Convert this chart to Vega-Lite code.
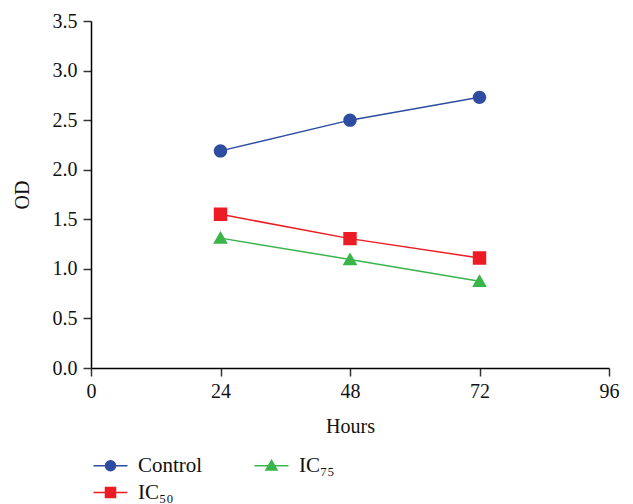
{
  "$schema": "https://vega.github.io/schema/vega-lite/v6.json",
  "width": 518,
  "height": 347,
  "autosize": "none",
  "padding": {"left": 91, "top": 21, "right": 24, "bottom": 136},
  "background": "white",
  "config": {
    "view": {"stroke": null},
    "font": "Liberation Serif",
    "axis": {
      "grid": false,
      "domainColor": "#000000",
      "domainWidth": 1.5,
      "tickColor": "#333333",
      "tickWidth": 1.5,
      "tickSize": 8,
      "labelFont": "Liberation Serif",
      "labelFontSize": 20,
      "labelColor": "#111111",
      "titleFont": "Liberation Serif",
      "titleFontSize": 20,
      "titleFontWeight": "normal",
      "titleColor": "#111111"
    }
  },
  "data": {
    "values": [
      {"hours": 24, "od": 2.19, "group": "Control"},
      {"hours": 48, "od": 2.50, "group": "Control"},
      {"hours": 72, "od": 2.73, "group": "Control"},
      {"hours": 24, "od": 1.55, "group": "IC₅₀"},
      {"hours": 48, "od": 1.305, "group": "IC₅₀"},
      {"hours": 72, "od": 1.11, "group": "IC₅₀"},
      {"hours": 24, "od": 1.31, "group": "IC₇₅"},
      {"hours": 48, "od": 1.095, "group": "IC₇₅"},
      {"hours": 72, "od": 0.875, "group": "IC₇₅"}
    ]
  },
  "encoding": {
    "x": {
      "field": "hours",
      "type": "quantitative",
      "title": "Hours",
      "scale": {"domain": [0, 96], "nice": false, "zero": false},
      "axis": {"values": [0, 24, 48, 72, 96], "labelPadding": 5, "titlePadding": 15, "labelFlush": false}
    },
    "y": {
      "field": "od",
      "type": "quantitative",
      "title": "OD",
      "scale": {"domain": [0, 3.5], "nice": false},
      "axis": {"values": [0, 0.5, 1, 1.5, 2, 2.5, 3, 3.5], "format": ".1f", "labelPadding": 6, "titlePadding": 20, "labelFlush": false}
    },
    "color": {
      "field": "group",
      "type": "nominal",
      "scale": {"domain": ["Control", "IC₅₀", "IC₇₅"], "range": ["#2E4DA0", "#ED1C24", "#39B54A"]},
      "legend": {
        "title": null,
        "orient": "none",
        "legendX": 9,
        "legendY": 434,
        "columns": 2,
        "columnPadding": 48,
        "rowPadding": 5,
        "padding": 0,
        "symbolSize": 100,
        "labelOffset": 17,
        "labelFont": "Liberation Serif",
        "labelFontSize": 21,
        "labelColor": "#111111",
        "symbolStrokeWidth": 1.5,
        "encode": {
          "symbols": {
            "update": {
              "stroke": {"scale": "color", "field": "value"},
              "strokeWidth": {"value": 1.5},
              "opacity": {"value": 1}
            }
          }
        }
      }
    }
  },
  "layer": [
    {
      "mark": {"type": "line", "strokeWidth": 1.5}
    },
    {
      "mark": {"type": "point", "filled": true, "opacity": 1, "size": 180, "strokeWidth": 0},
      "encoding": {
        "shape": {
          "field": "group",
          "type": "nominal",
          "scale": {
            "domain": ["Control", "IC₅₀", "IC₇₅"],
            "range": [
              "M-1,0A1,1,0,1,1,1,0A1,1,0,1,1,-1,0ZM-3.4,0H3.4",
              "M-1,-1H1V1H-1ZM-3.4,0H3.4",
              "M0,-1.05L1.1,0.85H-1.1ZM-3.4,0H3.4"
            ]
          },
          "legend": {
            "title": null,
            "orient": "none",
            "legendX": 9,
            "legendY": 434,
            "columns": 2,
            "columnPadding": 48,
            "rowPadding": 5,
            "padding": 0,
            "symbolSize": 100,
            "labelOffset": 17,
            "labelFont": "Liberation Serif",
            "labelFontSize": 21,
            "labelColor": "#111111",
            "symbolStrokeWidth": 1.5,
            "encode": {
              "symbols": {
                "update": {
                  "stroke": {"scale": "color", "field": "value"},
                  "strokeWidth": {"value": 1.5},
                  "opacity": {"value": 1}
                }
              }
            }
          }
        }
      }
    }
  ]
}
